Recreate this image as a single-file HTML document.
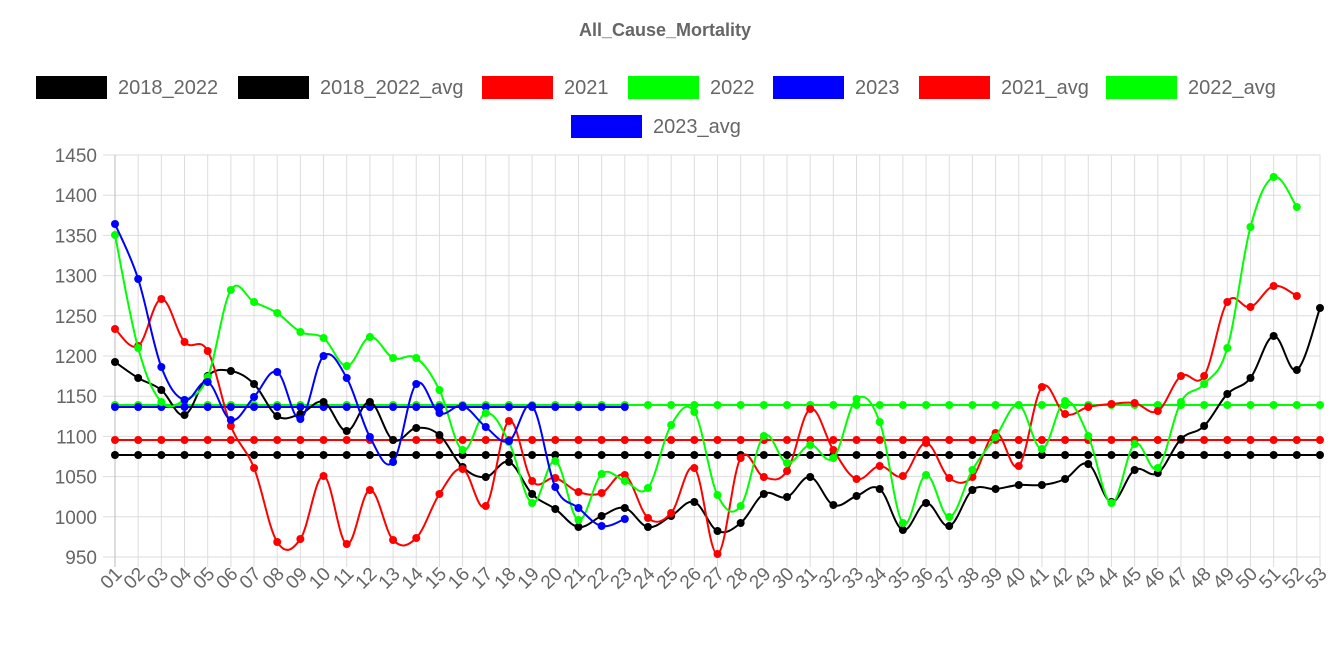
<!DOCTYPE html>
<html><head><meta charset="utf-8"><style>
body{margin:0;background:#fff;font-family:"Liberation Sans",sans-serif}
</style></head><body>
<svg id="s" width="1331" height="665" xmlns="http://www.w3.org/2000/svg" font-family="Liberation Sans, sans-serif"></svg>
<script>
const s=document.getElementById('s');let h='';
const X=i=>115+i*(1205/52);
const Y=v=>155+(1450-v)*0.804;
h+='<text x="665" y="36" text-anchor="middle" font-size="18" font-weight="bold" fill="#666">All_Cause_Mortality</text>';
const leg=[[36,"#000","2018_2022"],[238,"#000","2018_2022_avg"],[482,"#f00","2021"],[628,"#0f0","2022"],[773,"#00f","2023"],[919,"#f00","2021_avg"],[1106,"#0f0","2022_avg"]];
leg.forEach(l=>{h+=`<rect x="${l[0]}" y="76" width="71" height="23" fill="${l[1]}"/><text x="${l[0]+82}" y="94" font-size="20" fill="#666">${l[2]}</text>`});
h+=`<rect x="571" y="115" width="71" height="23" fill="#00f"/><text x="653" y="133" font-size="20" fill="#666">2023_avg</text>`;
for(let v=950;v<=1450;v+=50){h+=`<line x1="103" x2="1320" y1="${Y(v)}" y2="${Y(v)}" stroke="#ddd"/><text x="97" y="${Y(v)+7}" text-anchor="end" font-size="19" fill="#666">${v}</text>`}
for(let i=0;i<53;i++){const x=X(i);h+=`<line x1="${x}" x2="${x}" y1="155" y2="567" stroke="${i==0?'#bbb':'#ddd'}"/>`;
const lb=String(i+1).padStart(2,'0');h+=`<text transform="translate(${x+8},${575}) rotate(-45)" text-anchor="end" font-size="19" fill="#666">${lb}</text>`}
function path(ys,col){let p=ys.map((y,i)=>[X(i),y]);let d=`M${p[0][0]},${p[0][1]}`;
for(let i=0;i<p.length-1;i++){const p0=p[i-1]||p[i],p1=p[i],p2=p[i+1],p3=p[i+2]||p2;const t=0.18;
d+=` C${p1[0]+(p2[0]-p0[0])*t},${p1[1]+(p2[1]-p0[1])*t} ${p2[0]-(p3[0]-p1[0])*t},${p2[1]-(p3[1]-p1[1])*t} ${p2[0]},${p2[1]}`}
h+=`<path d="${d}" fill="none" stroke="${col}" stroke-width="2"/>`;p.forEach(q=>h+=`<circle cx="${q[0]}" cy="${q[1]}" r="4" fill="${col}"/>`)}
const flat=(n,y)=>Array(n).fill(y);
path(flat(53,455),"#000");path(flat(53,440),"#f00");path(flat(53,405),"#0f0");path(flat(23,407),"#00f");
path([362,378,390,415,376,371,384,416,414,402,431,402,440,428,435,467,477,462,494,509,527,516,508,527,516,502,531,523,494,497,477,505,496,489,530,503,526,490,489,485,485,479,464,502,470,473,439,426,394,378,336,370,308],"#000");
path([329,346,299,342,351,426,468,542,539,476,544,490,540,538,494,469,506,421,481,478,492,493,475,518,513,468,554,458,477,471,409,450,479,466,476,443,478,477,433,466,387,414,407,404,403,411,376,376,302,307,286,296],"#f00");
path([235,348,402,400,377,290,302,313,332,338,366,337,358,358,390,450,413,442,503,461,520,474,481,488,425,412,495,506,436,463,445,458,399,422,523,475,517,470,437,405,449,401,436,503,444,468,402,384,348,227,177,207],"#0f0");
path([224,279,367,400,382,420,397,372,419,356,378,437,462,384,413,406,427,441,406,487,508,526,519],"#00f");
s.innerHTML=h;
</script>
</body></html>
